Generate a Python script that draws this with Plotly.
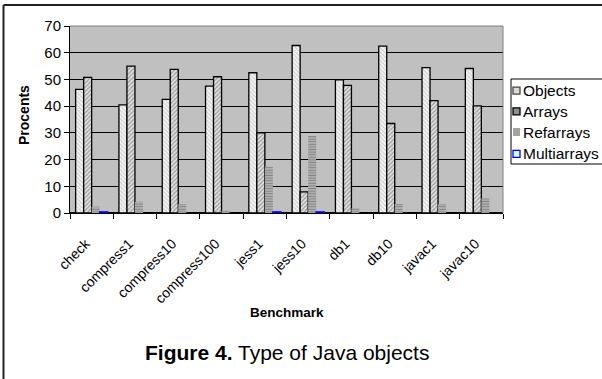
import plotly.graph_objects as go

# Share of allocated Java objects by kind, per SPEC benchmark run
benchmarks = ["check", "compress1", "compress10", "compress100", "jess1",
              "jess10", "db1", "db10", "javac1", "javac10"]
series_names = ["Objects", "Arrays", "Refarrays", "Multiarrays"]
objects = [46.3, 40.5, 42.5, 47.5, 52.5, 62.7, 49.8, 62.5, 54.4, 54.1]
arrays = [50.8, 55.0, 53.8, 51.0, 30.0, 7.9, 47.8, 33.5, 42.1, 40.1]
refarrays = [2.4, 4.2, 3.3, 0.9, 17.3, 28.8, 1.8, 3.4, 3.3, 5.5]
multiarrays = [0.4, 0, 0, 0, 0.4, 0.4, 0, 0, 0, 0]
y_ticks = [0, 10, 20, 30, 40, 50, 60, 70]

W, H = 602, 379
L, R, T, B = 70, 99, 26, 166
PW, PH = W - L - R, H - T - B
FONT = "Arial, Liberation Sans, sans-serif"


def px(x):
    return (x - L) / PW


def py(y):
    return 1 - (y - T) / PH


def nonzero(vals):
    # empty categories get no bar at all (not even an outline)
    return [v if v > 0 else None for v in vals]


styles = [
    dict(pattern=dict(shape="\\", bgcolor="#F4F4F4", fgcolor="#A0A0A0", size=3, solidity=0.35),
         line=dict(color="black", width=1.3)),
    dict(pattern=dict(shape="/", bgcolor="#E4E4E4", fgcolor="#5A5A5A", size=3, solidity=0.45),
         line=dict(color="black", width=1.3)),
    dict(pattern=dict(shape="-", bgcolor="#BDBDBD", fgcolor="#4A4A4A", size=2.6, solidity=0.5),
         color="#BDBDBD", line=dict(width=0)),
    dict(color="#CCFFFF", line=dict(color="#0000FF", width=1.5)),
]

fig = go.Figure()
for name, vals, st in zip(series_names, [objects, arrays, refarrays, multiarrays], styles):
    fig.add_trace(go.Bar(x=benchmarks, y=nonzero(vals), name=name, marker=st, showlegend=False))

fig.update_layout(
    width=W, height=H,
    margin=dict(l=L, r=R, t=T, b=B, autoexpand=False),
    paper_bgcolor="white", plot_bgcolor="#C0C0C0",
    barmode="group", bargap=0.26, bargroupgap=0,
    font=dict(family=FONT, color="black"),
    xaxis=dict(type="category", showgrid=False, showline=True, linecolor="black", linewidth=1,
               ticks="outside", ticklen=5, tickcolor="black", tickson="boundaries",
               tickangle=-45, tickfont=dict(size=14), ticklabelshift=-6, ticklabelstandoff=16),
    yaxis=dict(range=[0, 70], tickvals=y_ticks, showgrid=True, gridcolor="black", gridwidth=1,
               zeroline=True, zerolinecolor="black", showline=True, linecolor="black", linewidth=1,
               ticks="outside", ticklen=5, tickcolor="black", tickfont=dict(size=15)),
)

shapes = [
    # plot-area border on top and right
    dict(type="line", xref="paper", yref="paper", x0=0, x1=1, y0=1, y1=1,
         line=dict(color="#808080", width=1), layer="above"),
    dict(type="line", xref="paper", yref="paper", x0=1, x1=1, y0=0, y1=1,
         line=dict(color="#808080", width=1), layer="above"),
    # outer chart frame
    dict(type="line", xref="paper", yref="paper", x0=px(3.5), x1=px(3.5), y0=py(5), y1=py(400),
         line=dict(color="#222222", width=2)),
    dict(type="line", xref="paper", yref="paper", x0=px(3.5), x1=px(640), y0=py(5), y1=py(5),
         line=dict(color="#222222", width=2)),
    # legend box
    dict(type="rect", xref="paper", yref="paper", x0=px(511), x1=px(640), y0=py(79), y1=py(164),
         line=dict(color="black", width=1), fillcolor="white"),
]

annotations = [
    dict(text="<b>Procents</b>", x=px(24), y=py(115), textangle=-90, font=dict(size=14)),
    dict(text="<b>Benchmark</b>", x=px(286.5), y=py(312), font=dict(size=13.5)),
    dict(text="<b>Figure 4.</b> Type of Java objects", x=px(286.5), y=py(352.5), font=dict(size=21)),
]

# legend entries
rows = [90.7, 111.3, 132.0, 153.8]
sym = [("#DADADA", "#444444"), ("#8E8E8E", "black"), (None, None), ("#CCFFFF", "#0000FF")]
for name, yc, (fill, edge) in zip(series_names, rows, sym):
    if fill is None:
        for k in range(4):
            yy = yc - 3 + k * 2
            shapes.append(dict(type="line", xref="paper", yref="paper", x0=px(513), x1=px(520),
                               y0=py(yy), y1=py(yy), line=dict(color="#666666", width=1.2)))
    else:
        shapes.append(dict(type="rect", xref="paper", yref="paper", x0=px(513), x1=px(520),
                           y0=py(yc + 3.5), y1=py(yc - 3.5), fillcolor=fill,
                           line=dict(color=edge, width=1.3)))
    annotations.append(dict(text=name, x=px(521), y=py(yc), xanchor="left", font=dict(size=15.5)))

for a in annotations:
    a.update(xref="paper", yref="paper", showarrow=False)
    a.setdefault("xanchor", "center")
    a.setdefault("yanchor", "middle")

fig.update_layout(shapes=shapes, annotations=annotations)
fig.write_html("out.html")
